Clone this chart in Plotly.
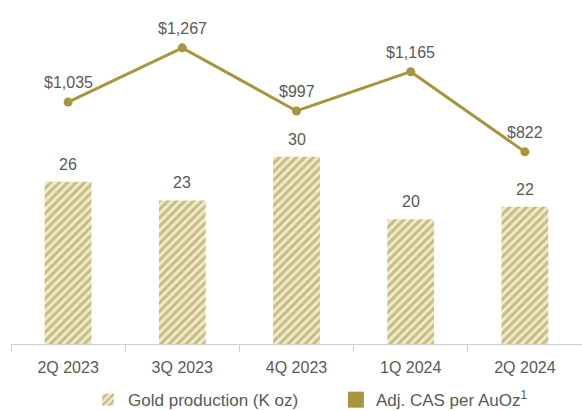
import plotly.graph_objects as go

quarters = ["2Q 2023", "3Q 2023", "4Q 2023", "1Q 2024", "2Q 2024"]
gold_production = [26, 23, 30, 20, 22]
adj_cas = [1035, 1267, 997, 1165, 822]
cas_labels = ["$1,035", "$1,267", "$997", "$1,165", "$822"]

GOLD = "#a8953e"
TXT = "#595959"
FONT = "Liberation Sans, Arial, sans-serif"

fig = go.Figure()

fig.add_trace(go.Bar(
    x=quarters, y=gold_production, name="Gold production (K oz)",
    marker=dict(color="#f2ebc8", line=dict(width=0),
                pattern=dict(shape="/", fgcolor="#9c8c48", size=6, solidity=0.5)),
    yaxis="y", hoverinfo="skip", legend="legend",
))

fig.add_trace(go.Scatter(
    x=quarters, y=adj_cas, mode="lines+markers", yaxis="y2",
    line=dict(color=GOLD, width=3), marker=dict(color=GOLD, size=9),
    showlegend=False, hoverinfo="skip",
))

fig.add_trace(go.Scatter(
    x=[None], y=[None], mode="markers", yaxis="y2", name="Adj. CAS per AuOz<sup>1</sup>",
    marker=dict(color=GOLD, symbol="square", size=16), legend="legend2",
))

annotations = []
for q, v in zip(quarters, gold_production):
    annotations.append(dict(x=q, y=v, yref="y", text=str(v), showarrow=False,
                            yanchor="bottom", yshift=7,
                            font=dict(size=16, color=TXT, family=FONT)))
for q, v, t in zip(quarters, adj_cas, cas_labels):
    annotations.append(dict(x=q, y=v, yref="y2", text=t, showarrow=False,
                            yanchor="bottom", yshift=9,
                            font=dict(size=16, color=TXT, family=FONT)))

legend_common = dict(orientation="h", y=-0.168, yanchor="middle",
                     font=dict(size=17, color=TXT), itemclick=False,
                     bgcolor="rgba(0,0,0,0)")

fig.update_layout(
    width=582, height=411,
    margin=dict(l=11, r=0, t=10, b=67, autoexpand=False),
    paper_bgcolor="white", plot_bgcolor="white",
    bargap=0.59,
    font=dict(family=FONT, color=TXT, size=16),
    xaxis=dict(type="category", showline=True, linecolor="#cfcfcf", linewidth=1,
               ticks="outside", tickson="boundaries", ticklen=7, tickcolor="#cfcfcf",
               tickfont=dict(size=16, color=TXT), ticklabelstandoff=9, showgrid=False),
    yaxis=dict(range=[0, 53.5], visible=False, showgrid=False),
    yaxis2=dict(range=[0, 1429], overlaying="y", visible=False, showgrid=False),
    legend=dict(x=0.135, xanchor="left", **legend_common),
    legend2=dict(x=0.569, xanchor="left", **legend_common),
    annotations=annotations,
    showlegend=True,
)

fig.write_html("out.html")
